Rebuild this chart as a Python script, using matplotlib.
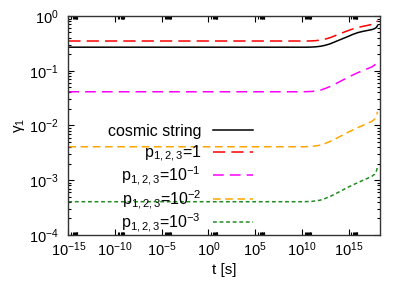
import numpy as np
import matplotlib
matplotlib.use("Agg")
import matplotlib.pyplot as plt
from matplotlib.ticker import FixedLocator, FixedFormatter

plt.rcParams["font.family"] = ["Liberation Sans", "DejaVu Sans"]
plt.rcParams["mathtext.fontset"] = "custom"
plt.rcParams["mathtext.rm"] = "Liberation Sans"
plt.rcParams["mathtext.it"] = "Liberation Sans:italic"
plt.rcParams["mathtext.default"] = "regular"

# log10 of time [s]
log_t = [-15, 10, 10.5, 11, 11.5, 12, 12.5, 13, 13.5, 14, 14.5, 15, 15.5, 16, 16.5, 17, 17.5, 17.8, 18.0, 18.1]

# log10 of gamma_1
log_g_cs = [-0.570, -0.570, -0.570, -0.568, -0.563, -0.553, -0.535, -0.510, -0.475, -0.440,
            -0.405, -0.370, -0.333, -0.303, -0.282, -0.265, -0.248, -0.230, -0.205, -0.175]
log_g_p1 = [-0.457, -0.457, -0.457, -0.455, -0.450, -0.440, -0.422, -0.397, -0.364, -0.330,
            -0.296, -0.264, -0.234, -0.209, -0.190, -0.173, -0.153, -0.133, -0.112, -0.085]
log_g_p01 = [-1.385, -1.385, -1.383, -1.380, -1.370, -1.355, -1.325, -1.290, -1.250, -1.205,
             -1.160, -1.115, -1.075, -1.035, -1.000, -0.965, -0.930, -0.895, -0.835, -0.775]
log_g_p001 = [-2.390, -2.390, -2.388, -2.385, -2.375, -2.360, -2.330, -2.295, -2.255, -2.210,
              -2.165, -2.120, -2.080, -2.040, -2.002, -1.965, -1.925, -1.885, -1.820, -1.750]
log_g_p0001 = [-3.395, -3.395, -3.393, -3.390, -3.380, -3.365, -3.335, -3.300, -3.260, -3.215,
               -3.170, -3.125, -3.085, -3.045, -3.007, -2.970, -2.930, -2.890, -2.825, -2.755]

labels = ["cosmic string", r"p$_{1,2,3}$=1", r"p$_{1,2,3}$=10$^{-1}$",
          r"p$_{1,2,3}$=10$^{-2}$", r"p$_{1,2,3}$=10$^{-3}$"]

x_major = [-15, -10, -5, 0, 5, 10, 15]
y_major = [-4, -3, -2, -1, 0]

t = 10.0 ** np.array(log_t)

fig = plt.figure(figsize=(4.09, 2.86), dpi=100)
ax = fig.add_axes([0.167, 0.179, 0.762, 0.765])

ax.plot(t, 10.0 ** np.array(log_g_cs), color="black", lw=1.1, label=labels[0])
ax.plot(t, 10.0 ** np.array(log_g_p1), color="#ff0000", lw=1.1, dashes=(8, 4), label=labels[1])
ax.plot(t, 10.0 ** np.array(log_g_p01), color="#ff00ff", lw=1.1, dashes=(7, 4, 7, 4), label=labels[2])
ax.plot(t, 10.0 ** np.array(log_g_p001), color="#ffa500", lw=1.1, dashes=(5, 3), label=labels[3])
ax.plot(t, 10.0 ** np.array(log_g_p0001), color="#228b22", lw=1.1, dashes=(2.5, 1.8), label=labels[4])

ax.set_xscale("log")
ax.set_yscale("log")
ax.set_xlim(1e-15, 2.3e18)
ax.set_ylim(1e-4, 1)

xm = [10.0 ** e for e in x_major]
ax.xaxis.set_major_locator(FixedLocator(xm))
ax.xaxis.set_major_formatter(FixedFormatter([r"10$^{%d}$" % e for e in x_major]))
ax.xaxis.set_minor_locator(FixedLocator([k * 10.0 ** e for e in x_major for k in range(2, 10)]))
ym = [10.0 ** e for e in y_major]
ax.yaxis.set_major_locator(FixedLocator(ym))
ax.yaxis.set_major_formatter(FixedFormatter([r"10$^{%d}$" % e for e in y_major]))
ax.yaxis.set_minor_locator(FixedLocator([k * 10.0 ** e for e in y_major[:-1] for k in range(2, 10)]))
ax.xaxis.set_minor_formatter(FixedFormatter([]))
ax.yaxis.set_minor_formatter(FixedFormatter([]))

ax.tick_params(which="both", direction="in", top=True, right=True, labelsize=10.5, width=0.8)
ax.tick_params(which="major", length=4)
ax.tick_params(which="minor", length=2)
ax.tick_params(axis="y", pad=7)
ax.tick_params(axis="x", pad=4)
for s in ax.spines.values():
    s.set_linewidth(1.0)
    s.set_color("#333333")

ax.set_xlabel("t [s]", fontsize=11, labelpad=3)
ax.set_ylabel(r"$\gamma_1$", fontsize=11, labelpad=1)

leg = ax.legend(loc="lower right", bbox_to_anchor=(0.593, 0.003), frameon=False, fontsize=11.5,
                markerfirst=False, handlelength=2.5, handletextpad=0.75, labelspacing=0.03,
                borderpad=0, borderaxespad=0)
# right-align the key texts and give every row the same height, as gnuplot does
for col in leg._legend_handle_box.get_children():
    col.align = "right"
    for row in col.get_children():
        box = row.get_children()[1]
        box.ydescent = 4.5
        box.height = 15.0

fig.savefig("out.png", dpi=100)
